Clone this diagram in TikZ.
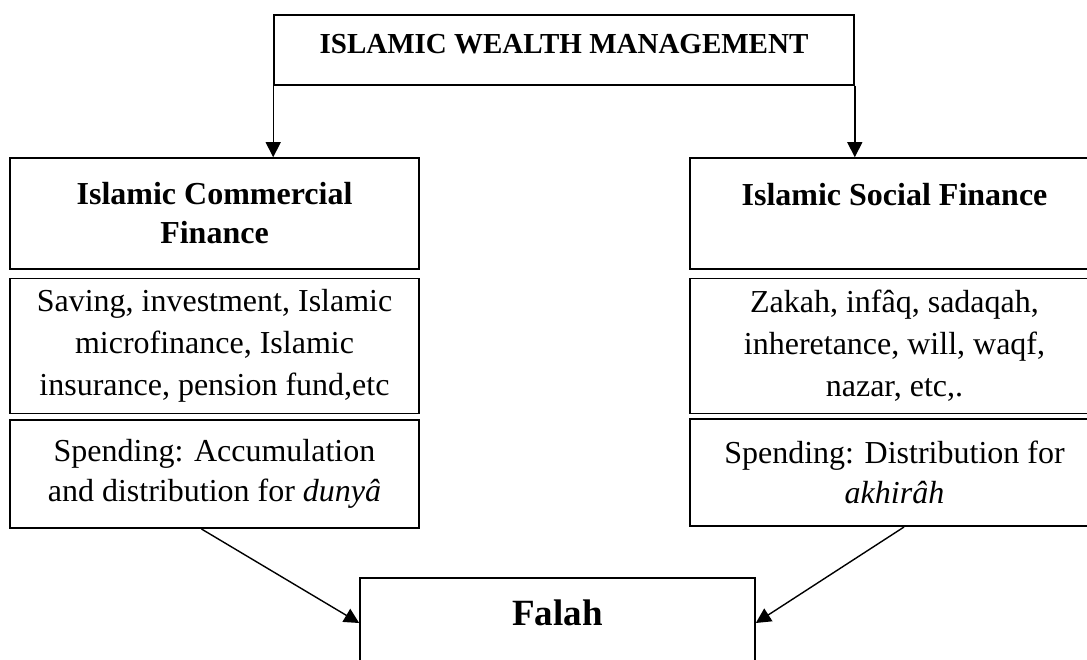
\documentclass[tikz,border=0pt]{standalone}
\usepackage{fontspec}
\setmainfont{Liberation Serif}
\usepackage{tikz}
\usetikzlibrary{
  % filled arrow heads
  arrows.meta,%
  positioning,%
  calc
}
\tikzset{>={Triangle[length=7.5pt,width=7.5pt]}}
\tikzset{box/.style={draw, rectangle, line width=0.8pt, align=center,
    minimum width=204.5pt, inner sep=0pt, font=\fontsize{16}{20}\selectfont}}
\tikzset{headbox/.style={box, font=\bfseries\fontsize{16}{19.5}\selectfont}}
\tikzset{listbox/.style={box, font=\fontsize{16}{21}\selectfont}}
\tikzset{link/.style={->, line width=0.7pt}}

\begin{document}
\begin{tikzpicture}[x=0.5pt, y=-0.5pt]
              \useasboundingbox (0, 0) rectangle (1087, 659); %
              \clip (0, 0) rectangle (1087, 659); %
              \node[box, anchor=north, minimum width=290pt, text height=19.25pt, text depth=15.75pt,
                font=\bfseries\fontsize{14.5}{17}\selectfont] (wealth) at (564, 14) {ISLAMIC WEALTH MANAGEMENT}; %
              % left column
              \node[headbox, minimum height=55.5pt] (commercial) at (214.5, 213.5) {Islamic Commercial\\Finance}; %
              \node[listbox, minimum height=67.5pt, below=4pt of commercial] (cfitems) {Saving, investment, Islamic\\microfinance, Islamic\\insurance, pension fund,etc}; %
              \node[box, minimum height=54pt, below=2.5pt of cfitems] (cfspend) {Spending: Accumulation\\and distribution for \textit{dunyâ}}; %
              % right column
              \node[headbox, minimum height=55.5pt] (social) at (894.5, 213.5) {Islamic Social Finance\\~}; %
              \node[listbox, minimum height=67.5pt, below=4pt of social] (sfitems) {Zakah, infâq, sadaqah,\\inheretance, will, waqf,\\nazar, etc,.}; %
              \node[box, minimum height=53.5pt, below=2pt of sfitems] (sfspend) {Spending: Distribution for\\\textit{akhirâh}}; %
              % goal
              \node[box, anchor=north, minimum width=197.5pt, text height=24pt, text depth=50pt,
                font=\bfseries\fontsize{18.5}{22}\selectfont] (falah) at (557.5, 577) {Falah}; %
              \draw[link] (wealth.south west) -- (wealth.south west |- commercial.north); %
              \draw[link] (wealth.south east) -- (wealth.south east |- social.north); %
              \draw[link] ([xshift=-6.5pt]cfspend.south) -- ([yshift=-23pt]falah.north west); %
              \draw[link] ([xshift=4.75pt]sfspend.south) -- ([yshift=-23pt]falah.north east); %
            \end{tikzpicture}
\end{document}
